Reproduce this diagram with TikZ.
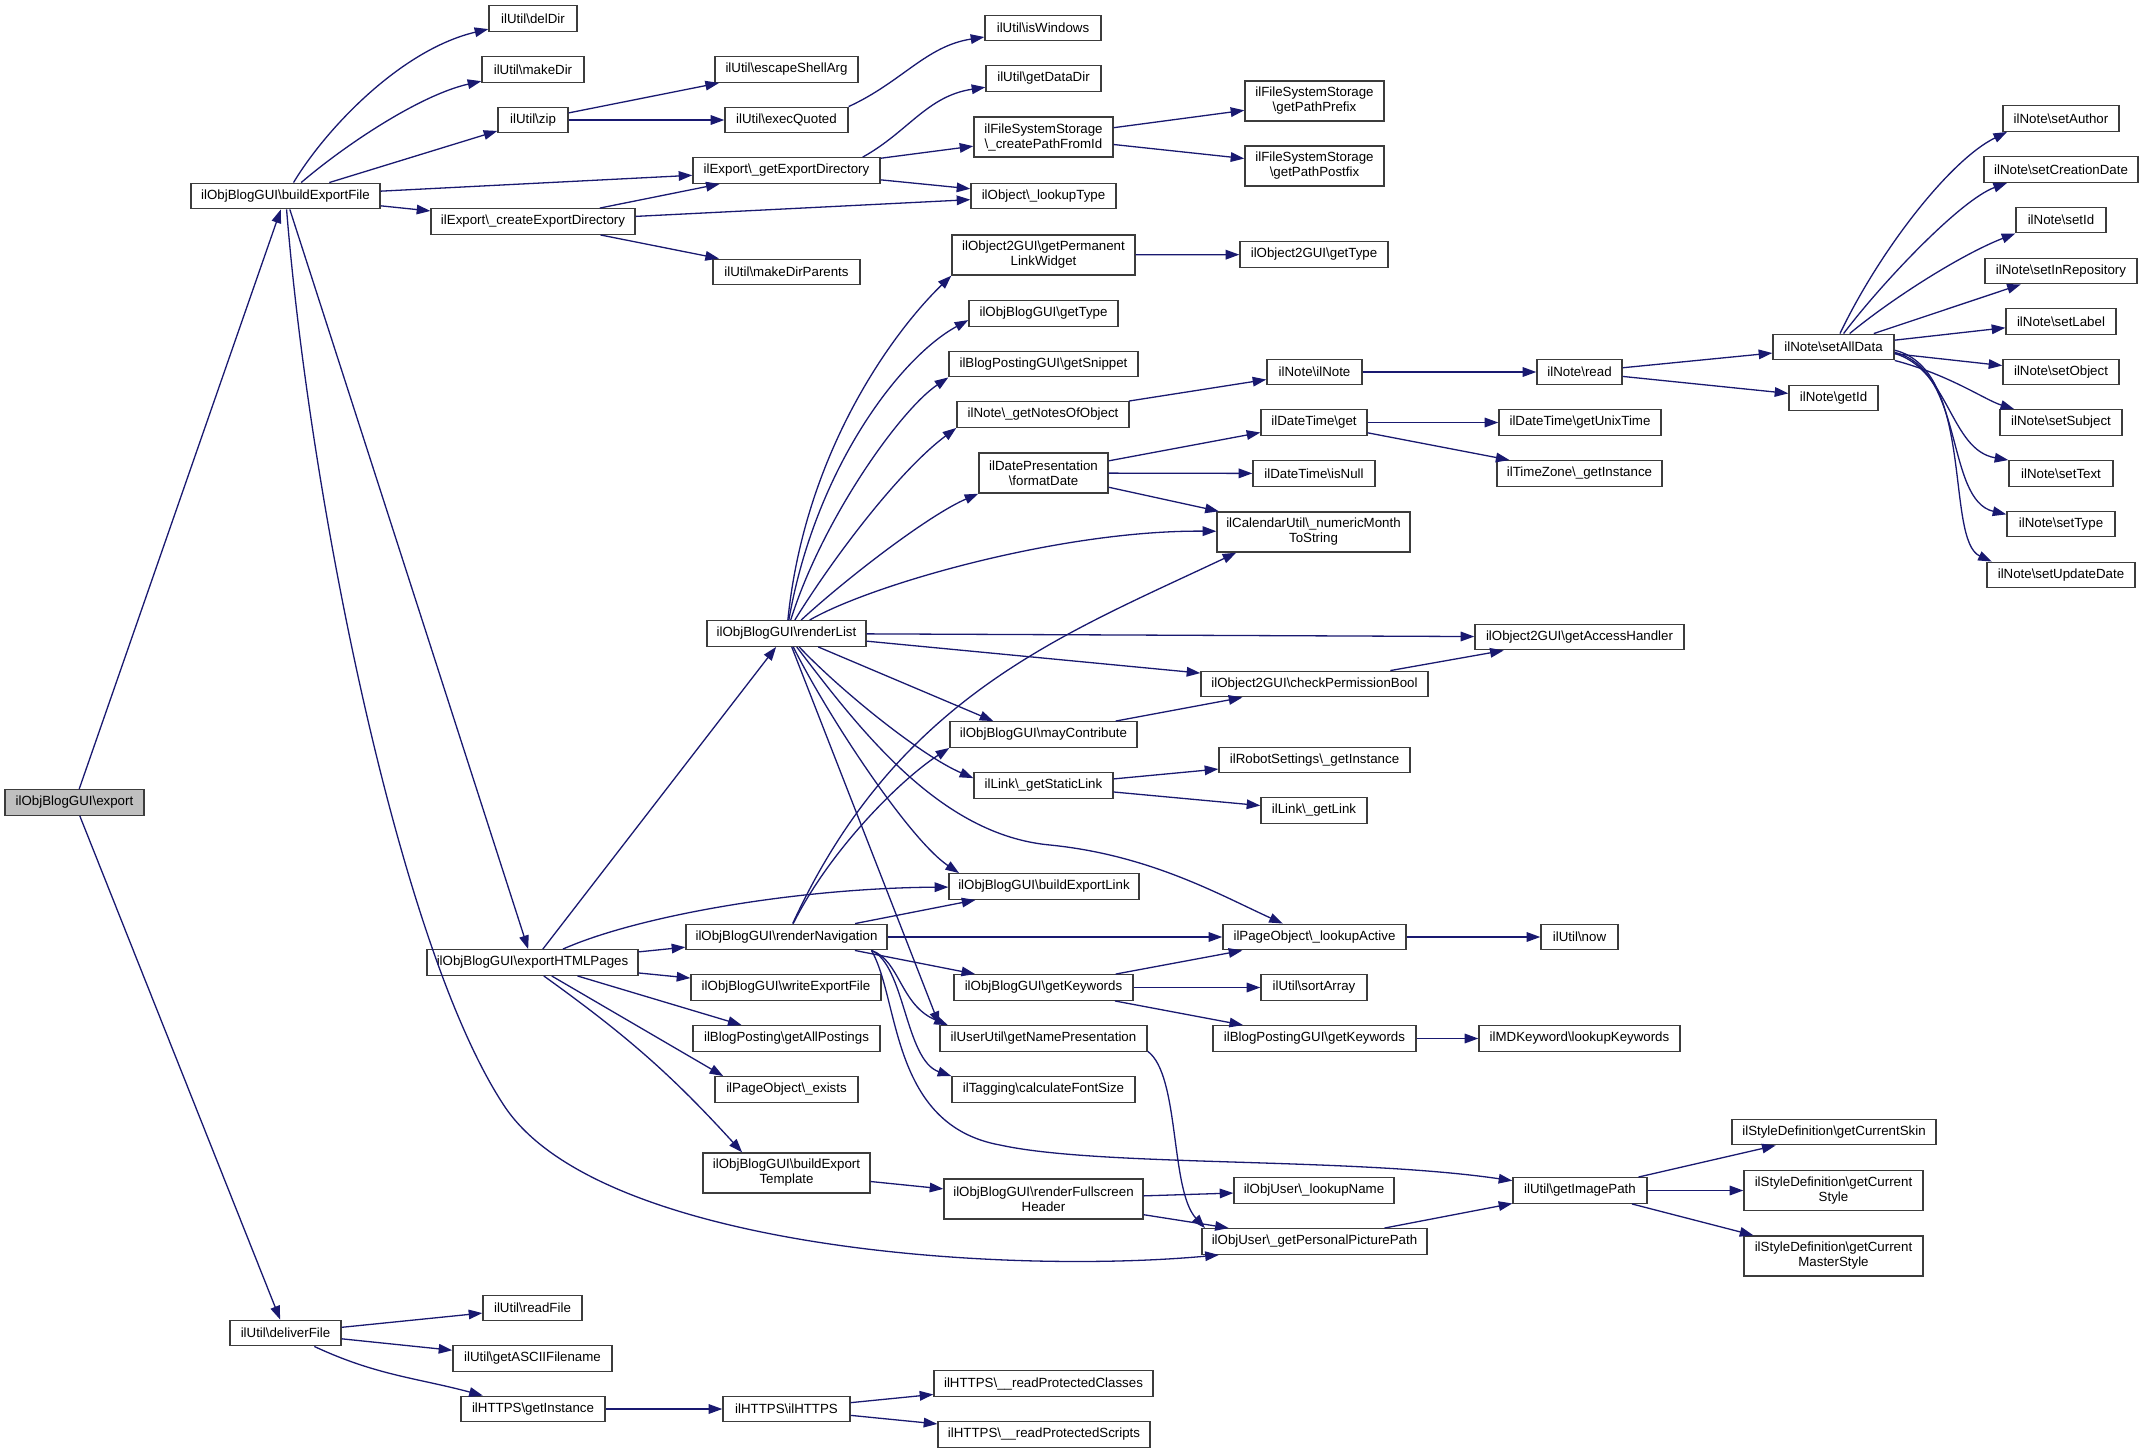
\documentclass[tikz,border=0pt]{standalone}
\usepackage{fontspec}
\setmainfont{Liberation Sans}
\usetikzlibrary{arrows.meta}
\definecolor{edgec}{RGB}{25,25,112}
\definecolor{boxc}{RGB}{60,60,60}
\newcommand{\bsl}{\textbackslash}
\begin{document}
\begin{tikzpicture}[x=0.5pt,y=-0.5pt,
  box/.style={draw=boxc, line width=0.7pt, fill=white, inner sep=0pt,
    font=\fontsize{6.65}{7.5}\selectfont, align=center, minimum height=12.75pt},
  bw/.style={minimum width=#1*0.5pt},
  two/.style={minimum height=20pt},
  ed/.style={draw=edgec, line width=0.65pt, -{Triangle[length=6.8pt,width=4.8pt]}}]
\useasboundingbox (0,0) rectangle (2144,1453);
\fill[white] (0,0) rectangle (2144,1453);

% ---- nodes ----
\node[box,bw=139,fill=gray!50] (export) at (74.5,802.5) {ilObjBlogGUI\bsl export};
\node[box,bw=189] (bef) at (285.5,196) {ilObjBlogGUI\bsl buildExportFile};
\node[box,bw=88] (delDir) at (533,18.5) {ilUtil\bsl delDir};
\node[box,bw=102] (makeDir) at (533,69.5) {ilUtil\bsl makeDir};
\node[box,bw=70] (zip) at (533,120) {ilUtil\bsl zip};
\node[box,bw=204] (ced) at (533,221.5) {ilExport\bsl\_createExportDirectory};
\node[box,bw=187] (ged) at (786.5,170.5) {ilExport\bsl\_getExportDirectory};
\node[box,bw=143] (esa) at (786.5,69.5) {ilUtil\bsl escapeShellArg};
\node[box,bw=123] (eq) at (786.5,120) {ilUtil\bsl execQuoted};
\node[box,bw=147] (mdp) at (786.5,272) {ilUtil\bsl makeDirParents};
\node[box,bw=116] (isw) at (1043,28) {ilUtil\bsl isWindows};
\node[box,bw=115] (gdd) at (1043.5,78.5) {ilUtil\bsl getDataDir};
\node[box,bw=139,two] (cpfi) at (1043.5,137) {ilFileSystemStorage\\\bsl\_createPathFromId};
\node[box,bw=145] (lt) at (1043.5,196) {ilObject\bsl\_lookupType};
\node[box,bw=139,two] (ppre) at (1314.5,101) {ilFileSystemStorage\\\bsl getPathPrefix};
\node[box,bw=139,two] (ppost) at (1314.5,166) {ilFileSystemStorage\\\bsl getPathPostfix};
\node[box,bw=183,two] (gplw) at (1043.5,255) {ilObject2GUI\bsl getPermanent\\LinkWidget};
\node[box,bw=148] (o2gt) at (1314,254.5) {ilObject2GUI\bsl getType};
\node[box,bw=149] (obgt) at (1043.5,313.5) {ilObjBlogGUI\bsl getType};
\node[box,bw=189] (snip) at (1043.5,364) {ilBlogPostingGUI\bsl getSnippet};
\node[box,bw=95] (iln) at (1314.5,372) {ilNote\bsl ilNote};
\node[box,bw=172] (gno) at (1043,414.5) {ilNote\bsl\_getNotesOfObject};
\node[box,bw=106] (dtg) at (1314,422.5) {ilDateTime\bsl get};
\node[box,bw=129,two] (fd) at (1043.5,473) {ilDatePresentation\\\bsl formatDate};
\node[box,bw=122] (isn) at (1314,473.5) {ilDateTime\bsl isNull};
\node[box,bw=193,two] (cal) at (1313.5,532) {ilCalendarUtil\bsl\_numericMonth\\ToString};
\node[box,bw=85] (read) at (1579.5,372) {ilNote\bsl read};
\node[box,bw=162] (unix) at (1580,422.5) {ilDateTime\bsl getUnixTime};
\node[box,bw=165] (tz) at (1579.5,473.5) {ilTimeZone\bsl\_getInstance};
\node[box,bw=121] (sad) at (1833.5,347) {ilNote\bsl setAllData};
\node[box,bw=89] (gid) at (1833.5,398) {ilNote\bsl getId};
\node[box,bw=116] (sAu) at (2061,118.5) {ilNote\bsl setAuthor};
\node[box,bw=154] (sCD) at (2061,169.5) {ilNote\bsl setCreationDate};
\node[box,bw=90] (sId) at (2061,220) {ilNote\bsl setId};
\node[box,bw=152] (sIR) at (2061,271) {ilNote\bsl setInRepository};
\node[box,bw=110] (sLa) at (2061,321.5) {ilNote\bsl setLabel};
\node[box,bw=116] (sOb) at (2061,372) {ilNote\bsl setObject};
\node[box,bw=122] (sSu) at (2061,422.5) {ilNote\bsl setSubject};
\node[box,bw=104] (sTe) at (2061,473.5) {ilNote\bsl setText};
\node[box,bw=108] (sTy) at (2061,524) {ilNote\bsl setType};
\node[box,bw=148] (sUD) at (2061,575) {ilNote\bsl setUpdateDate};
\node[box,bw=159] (rl) at (786.5,633.5) {ilObjBlogGUI\bsl renderList};
\node[box,bw=209] (gah) at (1579.5,637) {ilObject2GUI\bsl getAccessHandler};
\node[box,bw=227] (cpb) at (1314.5,684) {ilObject2GUI\bsl checkPermissionBool};
\node[box,bw=187] (mc) at (1043.5,734.5) {ilObjBlogGUI\bsl mayContribute};
\node[box,bw=191] (rob) at (1314.5,760) {ilRobotSettings\bsl\_getInstance};
\node[box,bw=139] (gsl) at (1043.5,785.5) {ilLink\bsl\_getStaticLink};
\node[box,bw=106] (gl) at (1314,810.5) {ilLink\bsl\_getLink};
\node[box,bw=190] (bel) at (1044,886.5) {ilObjBlogGUI\bsl buildExportLink};
\node[box,bw=201] (rn) at (786.5,937) {ilObjBlogGUI\bsl renderNavigation};
\node[box,bw=183] (la) at (1314.5,937) {ilPageObject\bsl\_lookupActive};
\node[box,bw=77] (now) at (1579.5,937) {ilUtil\bsl now};
\node[box,bw=211] (ehp) at (532.5,962.5) {ilObjBlogGUI\bsl exportHTMLPages};
\node[box,bw=190] (wef) at (786,987.5) {ilObjBlogGUI\bsl writeExportFile};
\node[box,bw=179] (gk) at (1043.5,987.5) {ilObjBlogGUI\bsl getKeywords};
\node[box,bw=106] (sa) at (1314,987.5) {ilUtil\bsl sortArray};
\node[box,bw=187] (gap) at (786.5,1038.5) {ilBlogPosting\bsl getAllPostings};
\node[box,bw=207] (gnp) at (1043.5,1038.5) {ilUserUtil\bsl getNamePresentation};
\node[box,bw=203] (bpk) at (1314.5,1038.5) {ilBlogPostingGUI\bsl getKeywords};
\node[box,bw=201] (lk) at (1579.5,1038.5) {ilMDKeyword\bsl lookupKeywords};
\node[box,bw=143] (poe) at (786.5,1089.5) {ilPageObject\bsl\_exists};
\node[box,bw=183] (cfs) at (1043.5,1089.5) {ilTagging\bsl calculateFontSize};
\node[box,bw=204] (skin) at (1834,1132) {ilStyleDefinition\bsl getCurrentSkin};
\node[box,bw=167,two] (bet) at (786.5,1173) {ilObjBlogGUI\bsl buildExport\\Template};
\node[box,bw=199,two] (rfh) at (1043.5,1199) {ilObjBlogGUI\bsl renderFullscreen\\Header};
\node[box,bw=160] (ln) at (1314,1190.5) {ilObjUser\bsl\_lookupName};
\node[box,bw=134] (gip) at (1580,1190.5) {ilUtil\bsl getImagePath};
\node[box,bw=179,two] (sty) at (1833.5,1190.5) {ilStyleDefinition\bsl getCurrent\\Style};
\node[box,bw=225] (gppp) at (1314.5,1241.5) {ilObjUser\bsl\_getPersonalPicturePath};
\node[box,bw=179,two] (mst) at (1833.5,1256) {ilStyleDefinition\bsl getCurrent\\MasterStyle};
\node[box,bw=111] (df) at (285.5,1333) {ilUtil\bsl deliverFile};
\node[box,bw=99] (rf) at (532.5,1308) {ilUtil\bsl readFile};
\node[box,bw=159] (gaf) at (532.5,1358.5) {ilUtil\bsl getASCIIFilename};
\node[box,bw=144] (hgi) at (533,1409) {ilHTTPS\bsl getInstance};
\node[box,bw=127] (ilh) at (786.5,1409) {ilHTTPS\bsl ilHTTPS};
\node[box,bw=219] (rpc) at (1043.5,1383.5) {ilHTTPS\bsl\_\_readProtectedClasses};
\node[box,bw=212] (rps) at (1044,1434.5) {ilHTTPS\bsl\_\_readProtectedScripts};

% ---- edges ----
\draw[ed] (export) -- (bef);
\draw[ed] (export) -- (df);
\draw[ed] (bef) .. controls (325,130) and (400,50) .. (delDir);
\draw[ed] (bef) .. controls (345,145) and (420,95) .. (makeDir);
\draw[ed] (bef) -- (zip);
\draw[ed] (bef) -- (ged);
\draw[ed] (bef) -- (ced);
\draw[ed] (bef) -- (ehp);
\draw[ed] (bef) .. controls (310,500) and (400,950) .. (505,1107) .. controls (600,1248) and (1000,1275) .. (gppp.188.5);

\draw[ed] (zip) -- (esa);
\draw[ed] (zip) -- (eq);
\draw[ed] (eq.north east) .. controls (902,82) and (926,46) .. (isw);
\draw[ed] (ged.10.5) .. controls (908,132) and (927,96) .. (gdd);
\draw[ed] (ged) -- (cpfi);
\draw[ed] (ged) -- (lt);
\draw[ed] (ced) -- (ged);
\draw[ed] (ced) -- (lt);
\draw[ed] (ced) -- (mdp);
\draw[ed] (cpfi) -- (ppre);
\draw[ed] (cpfi) -- (ppost);

\draw[ed] (ehp) -- (rl);
\draw[ed] (ehp) .. controls (640,915) and (800,888) .. (bel);
\draw[ed] (ehp) -- (rn);
\draw[ed] (ehp) -- (wef);
\draw[ed] (ehp) -- (gap);
\draw[ed] (ehp.-35) -- (poe.168);
\draw[ed] (ehp.-50) to[bend left=6] (bet.155);
\draw[ed] (bet) -- (rfh);
\draw[ed] (rfh) -- (ln);
\draw[ed] (rfh) -- (gppp);
\draw[ed] (gppp) -- (gip);
\draw[ed] (gip) -- (skin);
\draw[ed] (gip) -- (sty);
\draw[ed] (gip) -- (mst);
\draw[ed] (gnp.-7.9) .. controls (1180,1075) and (1170,1190) .. (gppp.173);

\draw[ed] (rl) .. controls (805,450) and (895,330) .. (gplw.south west);
\draw[ed] (rl) .. controls (815,470) and (899,358) .. (obgt.185);
\draw[ed] (rl) .. controls (822,520) and (900,410) .. (snip.south west);
\draw[ed] (rl) .. controls (835,555) and (900,470) .. (gno.south west);
\draw[ed] (rl) .. controls (848,577) and (929,515) .. (fd.south west);
\draw[ed] (rl) .. controls (870,585) and (1060,530) .. (cal);
\draw[ed] (rl) -- (gah);
\draw[ed] (rl) -- (cpb);
\draw[ed] (rl) -- (mc.165);
\draw[ed] (rl) .. controls (840,690) and (920,755) .. (gsl.174);
\draw[ed] (rl) .. controls (830,720) and (910,840) .. (bel.171);
\draw[ed] (rl) .. controls (860,730) and (940,835) .. (1050,845) .. controls (1150,855) and (1220,895) .. (la.157.6);
\draw[ed] (rl) -- (gnp.north west);

\draw[ed] (rn) .. controls (897,697) and (1060,636) .. (cal.195);
\draw[ed] (rn) .. controls (830,850) and (900,780) .. (mc.south west);
\draw[ed] (rn) -- (bel);
\draw[ed] (rn) -- (la);
\draw[ed] (rn) -- (gk);
\draw[ed] (rn.-9) .. controls (900,960) and (900,1005) .. (gnp.172);
\draw[ed] (rn.-9) .. controls (905,965) and (905,1060) .. (cfs.north west);
\draw[ed] (rn.-9) .. controls (900,1000) and (890,1125) .. (1000,1145) .. controls (1100,1167) and (1350,1157) .. (gip);

\draw[ed] (gk) -- (la);
\draw[ed] (gk) -- (sa);
\draw[ed] (gk) -- (bpk);
\draw[ed] (bpk) -- (lk);
\draw[ed] (la) -- (now);
\draw[ed] (mc) -- (cpb);
\draw[ed] (cpb) -- (gah);
\draw[ed] (gsl) -- (rob);
\draw[ed] (gsl) -- (gl);
\draw[ed] (gplw) -- (o2gt);
\draw[ed] (gno) -- (iln);
\draw[ed] (iln) -- (read);
\draw[ed] (read) -- (sad);
\draw[ed] (read) -- (gid);
\draw[ed] (fd) -- (dtg);
\draw[ed] (fd) -- (isn);
\draw[ed] (fd) -- (cal);
\draw[ed] (dtg) -- (unix);
\draw[ed] (dtg) -- (tz);

\draw[ed] (sad) .. controls (1880,250) and (1950,160) .. (sAu.194);
\draw[ed] (sad) .. controls (1880,285) and (1960,200) .. (sCD.194.3);
\draw[ed] (sad) .. controls (1890,300) and (1960,255) .. (sId.south west);
\draw[ed] (sad) -- (sIR);
\draw[ed] (sad) -- (sLa);
\draw[ed] (sad) -- (sOb);
\draw[ed] (sad.south east) .. controls (1950,375) and (1985,400) .. (sSu.164);
\draw[ed] (sad.-6.6) .. controls (1950,370) and (1950,450) .. (sTe.north west);
\draw[ed] (sad.-5) .. controls (1965,370) and (1945,500) .. (sTy.170.5);
\draw[ed] (sad.-3) .. controls (1975,370) and (1945,540) .. (sUD.169);

\draw[ed] (df) -- (rf);
\draw[ed] (df) -- (gaf);
\draw[ed] (df) to[out=-25,in=165] (hgi);
\draw[ed] (hgi) -- (ilh);
\draw[ed] (ilh) -- (rpc);
\draw[ed] (ilh) -- (rps);
\end{tikzpicture}
\end{document}
